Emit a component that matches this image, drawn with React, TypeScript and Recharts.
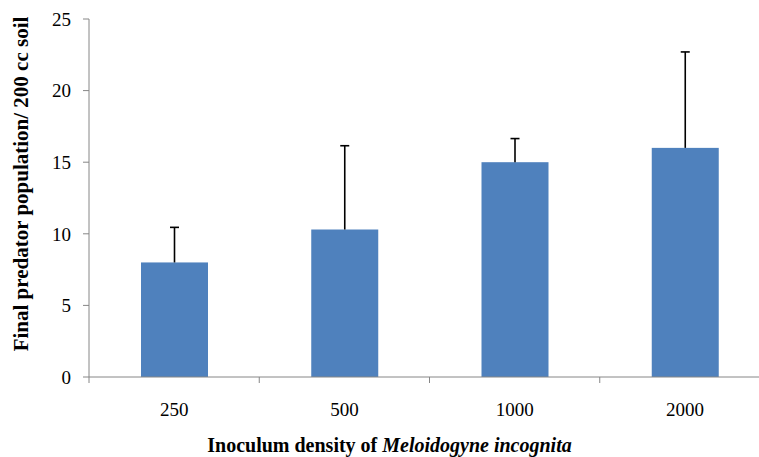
import React from 'react';
import { BarChart, Bar, XAxis, YAxis } from 'recharts';

const categories = ['250', '500', '1000', '2000'];
const means = [8, 10.3, 15, 16];
const errors = [2.45, 5.85, 1.65, 6.7];
const yTicks = [0, 5, 10, 15, 20, 25];

const data = categories.map((c, i) => ({ density: c, mean: means[i], err: errors[i] }));

const FONT = '"Liberation Serif", "Times New Roman", serif';
const AXIS_GREY = '#868686';

// bar with an upper-only error whisker, scaled from the bar's own height/value
const BarWithError = (props: any) => {
  const { x, y, width, height, payload, fill } = props;
  const perUnit = payload.mean ? height / payload.mean : 0;
  const cx = x + width / 2;
  const top = y - payload.err * perUnit;
  return (
    <g>
      <rect x={x} y={y} width={width} height={height} fill={fill} />
      <line x1={cx} x2={cx} y1={y} y2={top} stroke="#000" strokeWidth={1.6} />
      <line x1={cx - 4.5} x2={cx + 4.5} y1={top} y2={top} stroke="#000" strokeWidth={1.6} />
    </g>
  );
};

// category label at band centre, tick mark at band boundary
const XTick = (props: any) => {
  const { x, y, payload } = props;
  const half = payload && payload.offset ? payload.offset : 85;
  const axisY = y - 26;
  return (
    <g>
      <line x1={x - half} x2={x - half} y1={axisY} y2={axisY + 6} stroke={AXIS_GREY} strokeWidth={1} />
      <text x={x} y={y} dy="0.71em" textAnchor="middle" fontFamily={FONT} fontSize={19} fill="#000">
        {payload.value}
      </text>
    </g>
  );
};

const XLabel = (props: any) => {
  const vb = props.viewBox || {};
  const cx = vb.x + vb.width / 2 - 40;
  return (
    <text x={cx} y={452} textAnchor="middle" fontFamily={FONT} fontSize={20} fontWeight="bold" fill="#000">
      <tspan>Inoculum density of </tspan>
      <tspan fontStyle="italic">Meloidogyne incognita</tspan>
    </text>
  );
};

const YLabel = (props: any) => {
  const vb = props.viewBox || {};
  const cy = vb.y + vb.height / 2 - 14;
  const bx = 28;
  return (
    <text
      x={bx}
      y={cy}
      transform={`rotate(-90, ${bx}, ${cy})`}
      textAnchor="middle"
      fontFamily={FONT}
      fontSize={21}
      fontWeight="bold"
      fill="#000"
    >
      Final predator population/ 200 cc soil
    </text>
  );
};

export default function App() {
  return (
    <div
      style={{
        position: 'absolute',
        left: 0,
        top: 0,
        width: 759,
        height: 457,
        overflow: 'hidden',
        background: '#fff',
      }}
    >
      <BarChart width={780} height={457} data={data} margin={{ top: 19, right: 10, bottom: 20, left: 0 }}>
        <XAxis
          dataKey="density"
          height={60}
          stroke={AXIS_GREY}
          tickLine={false}
          tickSize={6}
          tickMargin={20}
          tick={<XTick />}
          label={<XLabel />}
        />
        <YAxis
          width={89}
          domain={[0, 25]}
          ticks={yTicks}
          interval={0}
          stroke={AXIS_GREY}
          tickSize={6}
          tickMargin={12}
          tick={{ fill: '#000', fontFamily: FONT, fontSize: 19 }}
          label={<YLabel />}
        />
        <Bar dataKey="mean" fill="#4F81BD" barSize={67} shape={<BarWithError />} isAnimationActive={false} />
      </BarChart>
    </div>
  );
}
